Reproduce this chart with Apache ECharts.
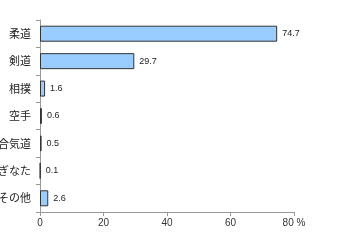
<!DOCTYPE html>
<html><head><meta charset="utf-8">
<script src="https://cdn.jsdelivr.net/npm/echarts@6/dist/echarts.min.js"></script>
<style>html,body{margin:0;padding:0;background:#fff}#c{width:360px;height:240px}</style>
</head><body><div id="c"></div>
<script>
const categories = ['柔道','剣道','相撲','空手','合気道','なぎなた','その他'];
const values = [74.7, 29.7, 1.6, 0.6, 0.5, 0.1, 2.6];
const xTicks = [0, 20, 40, 60, 80];
const xMax = 80;

const chart = echarts.init(document.getElementById('c'), null, {renderer:'canvas'});
chart.setOption({
  animation: false,
  grid: {left: 40, right: 66, top: 20, bottom: 28, containLabel: false, outerBoundsMode: 'none'},
  xAxis: {
    type: 'value', min: 0, max: xMax, interval: 20,
    splitLine: {show: false},
    axisLine: {show: true, lineStyle: {color: '#999', width: 1}},
    axisTick: {show: true, length: 4, lineStyle: {color: '#999'}},
    axisLabel: {color: '#333', fontSize: 10, fontFamily: 'Arial, Liberation Sans, sans-serif', margin: 6,
      formatter: v => v === xMax ? v + ' %' : String(v)}
  },
  yAxis: {
    type: 'category', data: categories, inverse: true,
    axisLine: {show: true, lineStyle: {color: '#999', width: 1}},
    axisTick: {show: true, length: 4, lineStyle: {color: '#999'}},
    axisLabel: {color: '#222', fontSize: 11, fontFamily: 'Noto Sans CJK JP', margin: 9}
  },
  series: [{
    type: 'bar', data: values, barWidth: 16,
    itemStyle: {color: '#99CCFF', borderColor: '#333', borderWidth: 1},
    label: {show: true, position: 'right', distance: 5, color: '#222', fontSize: 9,
      fontFamily: 'Arial, Liberation Sans, sans-serif', formatter: p => p.value.toFixed(1)}
  }]
});
</script></body></html>
